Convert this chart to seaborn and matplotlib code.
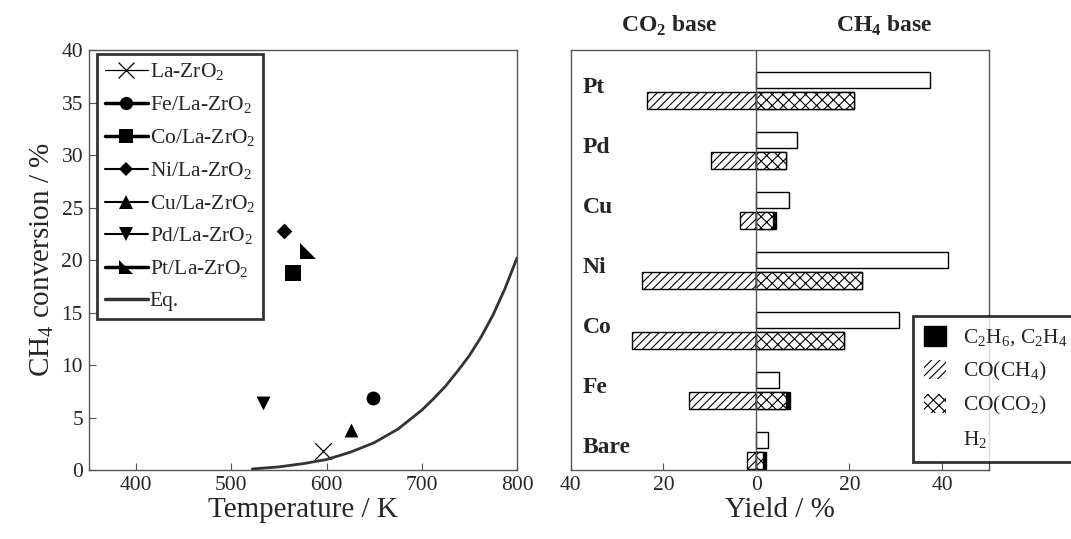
import pandas as pd
import matplotlib
matplotlib.use("Agg")
import matplotlib.pyplot as plt
import seaborn as sns
from matplotlib.lines import Line2D
from matplotlib.patches import Patch

# Left panel: CH4 conversion of each catalyst
samples = ["La-ZrO$_2$", "Fe/La-ZrO$_2$", "Co/La-ZrO$_2$", "Ni/La-ZrO$_2$",
           "Cu/La-ZrO$_2$", "Pd/La-ZrO$_2$", "Pt/La-ZrO$_2$"]
sample_temp = [596, 648.5, 565, 555, 626, 533.5, 580]
sample_conv = [1.8, 6.9, 18.8, 22.8, 3.8, 6.4, 20.9]

# equilibrium conversion curve
eq_temp = [522, 550, 575, 600, 625, 650, 675, 700, 712.5, 725, 737.5, 750,
           762.5, 775, 787.5, 800]
eq_conv = [0.1, 0.3, 0.6, 1.0, 1.7, 2.6, 3.9, 5.7, 6.8, 8.0, 9.4, 10.9,
           12.7, 14.8, 17.3, 20.2]

# Right panel: yields (bottom to top)
catalysts = ["Bare", "Fe", "Co", "Ni", "Cu", "Pd", "Pt"]
h2_yield = [2.6, 4.8, 30.7, 41.3, 7.1, 8.7, 37.3]
co_ch4_yield = [2.0, 14.5, 26.8, 24.7, 3.6, 9.7, 23.6]   # CO2 base, drawn to the left
co_co2_yield = [1.4, 6.4, 18.9, 22.8, 3.6, 6.4, 20.9]
c2_yield = [0.6, 0.8, 0.0, 0.0, 0.6, 0.0, 0.0]

sns.set_style("white")
plt.rcParams["font.family"] = ["Liberation Serif", "DejaVu Serif"]
plt.rcParams["mathtext.fontset"] = "custom"
plt.rcParams["mathtext.rm"] = "Liberation Serif"
plt.rcParams["mathtext.bf"] = "Liberation Serif:bold"
plt.rcParams["hatch.linewidth"] = 0.8

frame_col = "#555555"

fig = plt.figure(figsize=(10.71, 5.39), dpi=100)
ax1 = fig.add_axes([0.0827, 0.128, 0.400, 0.779])
ax2 = fig.add_axes([0.5327, 0.128, 0.3905, 0.779])

# ---------------- left panel ----------------
pt_marker = [(-1, 1), (-1, -1), (1, -1)]
markers = ["x", "o", "s", "D", "^", "v", pt_marker]
msizes = [12, 10, 11, 8, 10, 10, 11]
lws = [0.9, 2.5, 2.5, 1.5, 1.5, 1.5, 2.5]

sns.lineplot(x=eq_temp, y=eq_conv, ax=ax1, color="#333333", lw=2, legend=False)
for t, c, m, ms in zip(sample_temp, sample_conv, markers, msizes):
    if m == "x":
        sns.scatterplot(x=[t], y=[c], ax=ax1, marker="x", s=ms ** 2,
                        color="black", linewidth=0.9, legend=False)
    else:
        sns.scatterplot(x=[t], y=[c], ax=ax1, marker=m, s=ms ** 2,
                        color="black", edgecolor="black", linewidth=0, legend=False)

ax1.set_xlim(350, 800)
ax1.set_ylim(0, 40)
ax1.set_xticks([400, 500, 600, 700, 800])
ax1.set_yticks(range(0, 41, 5))
ax1.set_xlabel("Temperature / K", fontsize=21, labelpad=2)
ax1.set_ylabel("CH$_4$ conversion / %", fontsize=21, labelpad=4)
ax1.tick_params(axis="both", direction="in", length=5, color=frame_col,
                labelsize=15.5, left=True, bottom=True, pad=4)
for s in ax1.spines.values():
    s.set_color(frame_col)
    s.set_linewidth(1)

handles = []
for m, ms, lw in zip(markers, msizes, lws):
    handles.append(Line2D([], [], color="black", lw=lw, marker=m,
                          markersize=ms * 0.95, markeredgewidth=0.9 if m == "x" else 0))
handles.append(Line2D([], [], color="#333333", lw=2.5))
leg1 = ax1.legend(handles, samples + ["Eq."], loc="upper left",
                  bbox_to_anchor=(0.02, 0.99), fontsize=15.5, handlelength=2.0,
                  handletextpad=0.1, labelspacing=0.52, borderpad=0.35,
                  borderaxespad=0, fancybox=False, frameon=True)
leg1.get_frame().set_edgecolor("black")
leg1.get_frame().set_linewidth(2)

# ---------------- right panel ----------------
pos = list(range(len(catalysts)))
low = [p + 0.16 for p in pos]
high = [p + 0.50 for p in pos]
df_low = pd.DataFrame({
    "pos": low,
    "co_ch4": [-v for v in co_ch4_yield],
    "co_co2": co_co2_yield,
    "c2_end": [a + b for a, b in zip(co_co2_yield, c2_yield)],
})
df_high = pd.DataFrame({"pos": high, "h2": h2_yield})

bar_kw = dict(orient="h", native_scale=True, width=0.27, errorbar=None,
              saturation=1, edgecolor="black", linewidth=1, ax=ax2)
sns.barplot(data=df_low, x="co_ch4", y="pos", color="white", hatch="////", **bar_kw)
sns.barplot(data=df_low, x="c2_end", y="pos", color="black", **bar_kw)
sns.barplot(data=df_low, x="co_co2", y="pos", color="white", hatch="xxx", **bar_kw)
sns.barplot(data=df_high, x="h2", y="pos", color="white", **bar_kw)

ax2.axvline(0, color=frame_col, lw=1)
ax2.set_xlim(-40, 50)
ax2.set_ylim(0, 7)
ax2.set_yticks([])
ax2.set_ylabel("")
ax2.set_xticks([-40, -20, 0, 20, 40])
ax2.set_xticklabels(["40", "20", "0", "20", "40"])
ax2.set_xlabel("Yield / %", fontsize=21, labelpad=2)
ax2.tick_params(axis="x", direction="in", length=5, color=frame_col,
                labelsize=15.5, bottom=True, pad=4)
for s in ax2.spines.values():
    s.set_color(frame_col)
    s.set_linewidth(1)

for p, name in zip(pos, catalysts):
    ax2.text(-37.3, p + 0.37, name, fontsize=17, fontweight="bold",
             ha="left", va="center")

ax2.text(-18.8, 7.4, r"CO$_\mathbf{2}$ base", fontsize=17, fontweight="bold",
         ha="center", va="center", clip_on=False)
ax2.text(27.6, 7.4, r"CH$_\mathbf{4}$ base", fontsize=17, fontweight="bold",
         ha="center", va="center", clip_on=False)

leg_handles = [
    Patch(facecolor="black", edgecolor="black"),
    Patch(facecolor="white", edgecolor="black", linewidth=0, hatch="////"),
    Patch(facecolor="white", edgecolor="black", linewidth=0, hatch="xxx"),
    Patch(facecolor="white", edgecolor="white", linewidth=0),
]
leg2 = ax2.legend(leg_handles,
                  ["C$_2$H$_6$, C$_2$H$_4$", "CO(CH$_4$)", "CO(CO$_2$)", "H$_2$"],
                  loc="lower left", bbox_to_anchor=(0.82, 0.02), fontsize=15.5,
                  handlelength=1.0, handleheight=1.0, handletextpad=0.8,
                  labelspacing=0.5, borderpad=0.5, borderaxespad=0,
                  fancybox=False, frameon=True)
leg2.get_frame().set_edgecolor("black")
leg2.get_frame().set_linewidth(2)

fig.savefig("out.png", dpi=100)
